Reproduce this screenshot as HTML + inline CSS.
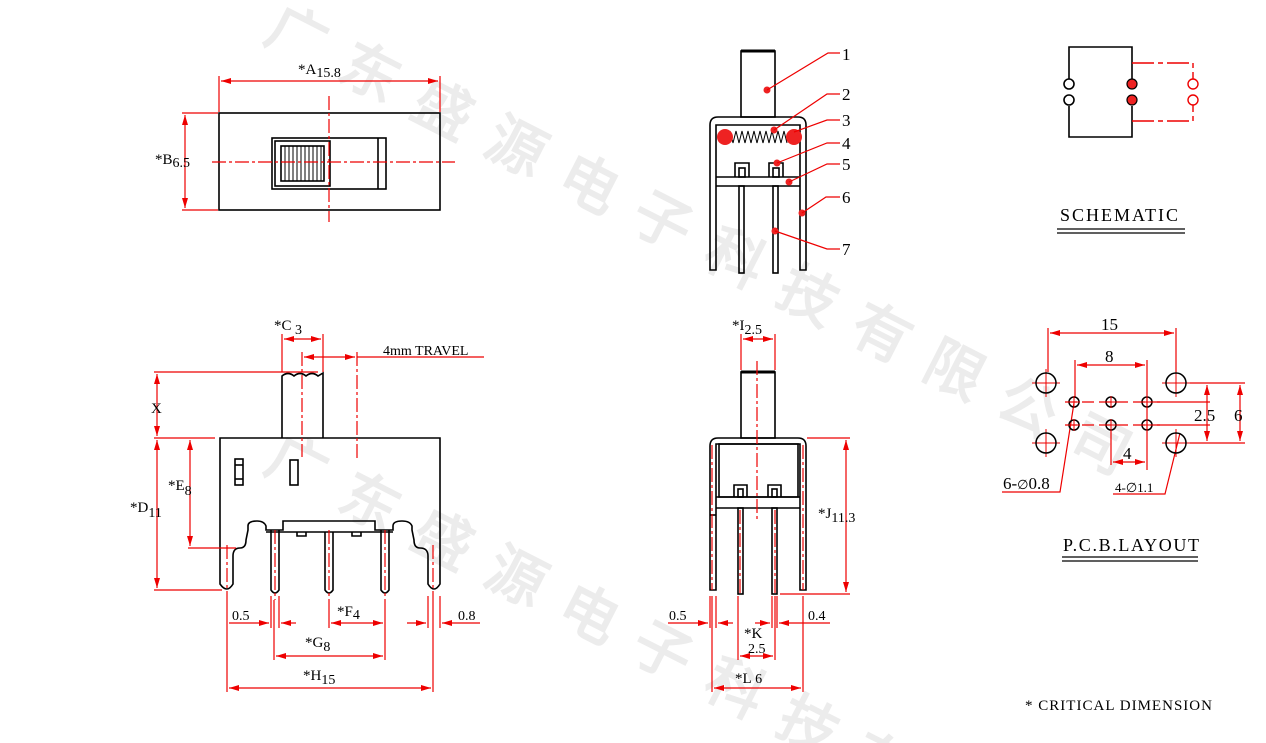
<!DOCTYPE html>
<html><head><meta charset="utf-8"><style>
html,body{margin:0;padding:0;background:#fff;width:1266px;height:743px;overflow:hidden;}
svg{display:block;}
text{font-family:"Liberation Serif",serif;}
</style></head><body>
<svg width="1266" height="743" viewBox="0 0 1266 743" xmlns="http://www.w3.org/2000/svg" overflow="hidden">
<defs>
<marker id="a" viewBox="0 0 10 6" refX="10" refY="3" markerWidth="10" markerHeight="6" orient="auto-start-reverse" markerUnits="userSpaceOnUse"><path d="M0,0 L10,3 L0,6 z" fill="#e00"/></marker>
</defs>
<!-- watermark -->
<g fill="#ececec" font-family="'Noto Sans CJK SC',sans-serif" font-size="58" font-weight="bold">
<text transform="translate(262,40) rotate(27)" letter-spacing="24">广东盛源电子科技有限公司</text>
<text transform="translate(262,470) rotate(27)" letter-spacing="24">广东盛源电子科技有限公司</text>
</g>

<g fill="none" stroke="#000" stroke-width="1.6">
<rect x="219" y="113" width="221" height="97"/>
<rect x="272" y="138" width="114" height="51"/>
<line x1="378" y1="138" x2="378" y2="189"/>
<rect x="275" y="141" width="55" height="45"/>
<rect x="281" y="146" width="43" height="35"/>
</g>
<g stroke="#000" stroke-width="1">
<line x1="285" y1="146" x2="285" y2="181"/><line x1="289" y1="146" x2="289" y2="181"/><line x1="293" y1="146" x2="293" y2="181"/><line x1="297" y1="146" x2="297" y2="181"/><line x1="301" y1="146" x2="301" y2="181"/><line x1="305" y1="146" x2="305" y2="181"/><line x1="309" y1="146" x2="309" y2="181"/><line x1="313" y1="146" x2="313" y2="181"/><line x1="317" y1="146" x2="317" y2="181"/><line x1="321" y1="146" x2="321" y2="181"/>
</g>
<g stroke="#e00" stroke-width="1.2" fill="none">
<line x1="329" y1="96" x2="329" y2="222" stroke-dasharray="14,3,3,3"/>
<line x1="212" y1="162" x2="455" y2="162" stroke-dasharray="14,3,3,3"/>
<line x1="219" y1="76" x2="219" y2="112"/><line x1="440" y1="76" x2="440" y2="112"/>
<line x1="221" y1="81" x2="438" y2="81" marker-start="url(#a)" marker-end="url(#a)"/>
<line x1="182" y1="113" x2="218" y2="113"/><line x1="182" y1="210" x2="218" y2="210"/>
<line x1="185" y1="115" x2="185" y2="208" marker-start="url(#a)" marker-end="url(#a)"/>
</g>
<g font-size="15" fill="#000">
<text x="298" y="74">*A<tspan font-size="14" dy="3">15.8</tspan></text>
<text x="155" y="164">*B<tspan font-size="14" dy="3">6.5</tspan></text>
</g>

<!-- front view -->
<g fill="none" stroke="#000" stroke-width="1.6">
<path d="M282,438 L282,376 Q288,371 294,376 Q300,371 306,376 Q312,371 318,376 L323,373 L323,438"/>
<path d="M220,438 L440,438 L440,584 Q434,594 428,584 L428,556 Q428,548 420,548 Q414,548 414,540 L412,530 L412,526 Q410,521 402,521 Q393,521 393,526 L393,530 L375,530 L375,521 L283,521 L283,530 L266,530 L266,526 Q264,521 257,521 Q248,521 248,526 L248,530 L246,540 Q246,548 240,548 Q233,548 233,556 L233,584 Q227,594 220,584 Z"/>
<path d="M271,530 L271,590 Q275,596 279,590 L279,530"/>
<path d="M325,532 L325,590 Q329,596 333,590 L333,532"/>
<path d="M381,530 L381,590 Q385,596 389,590 L389,530"/>
<path d="M297,532 L297,536 L306,536 L306,532 M352,532 L352,536 L361,536 L361,532"/>
<line x1="266" y1="532" x2="393" y2="532"/>
<rect x="235" y="459" width="8" height="26"/>
<line x1="235" y1="465" x2="243" y2="465"/><line x1="235" y1="479" x2="243" y2="479"/>
<rect x="290" y="460" width="8" height="25"/>
</g>
<g stroke="#e00" stroke-width="1.2" fill="none">
<line x1="282" y1="334" x2="282" y2="372"/><line x1="323" y1="334" x2="323" y2="372"/>
<line x1="284" y1="339" x2="321" y2="339" marker-start="url(#a)" marker-end="url(#a)"/>
<line x1="302" y1="352" x2="302" y2="457" stroke-dasharray="14,3,3,3"/>
<line x1="357" y1="352" x2="357" y2="460" stroke-dasharray="14,3,3,3"/>
<line x1="304" y1="357" x2="355" y2="357" marker-start="url(#a)" marker-end="url(#a)"/>
<line x1="357" y1="357" x2="484" y2="357"/>
<line x1="154" y1="372" x2="318" y2="372"/>
<line x1="154" y1="438" x2="215" y2="438"/>
<line x1="157" y1="374" x2="157" y2="436" marker-start="url(#a)" marker-end="url(#a)"/>
<line x1="157" y1="440" x2="157" y2="588" marker-start="url(#a)" marker-end="url(#a)"/>
<line x1="154" y1="590" x2="222" y2="590"/>
<line x1="188" y1="548" x2="236" y2="548"/>
<line x1="190" y1="440" x2="190" y2="546" marker-start="url(#a)" marker-end="url(#a)"/>
<g stroke-dasharray="14,3,3,3">
<line x1="227" y1="545" x2="227" y2="600"/><line x1="275" y1="530" x2="275" y2="600"/><line x1="329" y1="530" x2="329" y2="600"/><line x1="385" y1="530" x2="385" y2="600"/><line x1="433" y1="545" x2="433" y2="600"/>
</g>
<line x1="227" y1="600" x2="227" y2="692"/>
<line x1="271" y1="596" x2="271" y2="628"/><line x1="279" y1="596" x2="279" y2="628"/>
<line x1="274" y1="600" x2="274" y2="660"/>
<line x1="329" y1="600" x2="329" y2="628"/>
<line x1="385" y1="600" x2="385" y2="660"/>
<line x1="428" y1="596" x2="428" y2="628"/><line x1="440" y1="596" x2="440" y2="628"/>
<line x1="433" y1="600" x2="433" y2="692"/>
<line x1="229" y1="623" x2="269" y2="623" marker-end="url(#a)"/>
<line x1="296" y1="623" x2="281" y2="623" marker-end="url(#a)"/>
<line x1="331" y1="623" x2="383" y2="623" marker-start="url(#a)" marker-end="url(#a)"/>
<line x1="407" y1="623" x2="426" y2="623" marker-end="url(#a)"/>
<line x1="480" y1="623" x2="442" y2="623" marker-end="url(#a)"/>
<line x1="276" y1="656" x2="383" y2="656" marker-start="url(#a)" marker-end="url(#a)"/>
<line x1="229" y1="688" x2="431" y2="688" marker-start="url(#a)" marker-end="url(#a)"/>
</g>
<g font-size="15" fill="#000">
<text x="274" y="330">*C<tspan font-size="14" dy="4"> 3</tspan></text>
<text x="383" y="355" font-size="14">4mm TRAVEL</text>
<text x="151" y="413">X</text>
<text x="130" y="512">*D<tspan font-size="14" dy="5">11</tspan></text>
<text x="168" y="490">*E<tspan font-size="14" dy="5">8</tspan></text>
<text x="232" y="620" font-size="14">0.5</text>
<text x="337" y="616">*F<tspan font-size="14" dy="3">4</tspan></text>
<text x="458" y="620" font-size="14">0.8</text>
<text x="305" y="647">*G<tspan font-size="14" dy="4">8</tspan></text>
<text x="303" y="680">*H<tspan font-size="14" dy="4">15</tspan></text>
</g>

<!-- internal view -->
<g fill="none" stroke="#000" stroke-width="1.6">
<rect x="741" y="51" width="34" height="66"/>
<line x1="741" y1="51" x2="775" y2="51" stroke-width="3"/>
<path d="M710,270 L710,125 Q710,117 718,117 L798,117 Q806,117 806,125 L806,270 L800,270 L800,125 L716,125 L716,270 Z"/>
<line x1="716" y1="177" x2="800" y2="177"/><line x1="716" y1="186" x2="800" y2="186"/>
<rect x="739" y="186" width="5" height="87"/><rect x="773" y="186" width="5" height="87"/>
<path d="M735,177 L735,163 L749,163 L749,177 M769,177 L769,163 L783,163 L783,177"/>
<rect x="739" y="168" width="6" height="9"/><rect x="773" y="168" width="6" height="9"/>
<path stroke-width="1" d="M730,131 L733,143 L736,131 L739,143 L742,131 L745,143 L748,131 L751,143 L754,131 L757,143 L760,131 L763,143 L766,131 L769,143 L772,131 L775,143 L778,131 L781,143 L784,131 L787,143"/>
</g>
<g fill="#e22">
<circle cx="725" cy="137" r="8"/><circle cx="794" cy="137" r="8"/>
<circle cx="767" cy="90" r="3.5"/><circle cx="774" cy="130" r="3.5"/><circle cx="777" cy="163" r="3.5"/><circle cx="789" cy="182" r="3.5"/><circle cx="802" cy="213" r="3.5"/><circle cx="775" cy="231" r="3.5"/>
</g>
<g stroke="#e00" stroke-width="1.2" fill="none">
<polyline points="767,90 828,53 840,53"/>
<polyline points="774,130 827,94 840,94"/>
<polyline points="794,132 827,120 840,120"/>
<polyline points="777,163 827,143 840,143"/>
<polyline points="789,182 827,164 840,164"/>
<polyline points="802,213 826,197 840,197"/>
<polyline points="775,231 827,249 840,249"/>
</g>
<g font-size="17" fill="#000">
<text x="842" y="60">1</text><text x="842" y="100">2</text><text x="842" y="126">3</text><text x="842" y="149">4</text><text x="842" y="170">5</text><text x="842" y="203">6</text><text x="842" y="255">7</text>
</g>

<!-- side view -->
<g fill="none" stroke="#000" stroke-width="1.6">
<rect x="741" y="372" width="34" height="66"/>
<line x1="741" y1="372" x2="775" y2="372" stroke-width="3"/>
<path d="M710,590 L710,446 Q710,438 718,438 L798,438 Q806,438 806,446 L806,590 L800,590 L800,444 L716,444 L716,590 Z"/>
<rect x="719" y="444" width="79" height="53"/>
<line x1="716" y1="497" x2="800" y2="497"/><line x1="716" y1="508" x2="800" y2="508"/>
<line x1="710" y1="515" x2="716" y2="515"/>
<rect x="738" y="508" width="5" height="86"/><rect x="772" y="508" width="5" height="86"/>
<path d="M734,497 L734,485 L747,485 L747,497 M768,497 L768,485 L781,485 L781,497"/>
<rect x="738" y="489" width="5" height="8"/><rect x="772" y="489" width="5" height="8"/>
</g>
<g stroke="#e00" stroke-width="1.2" fill="none">
<line x1="741" y1="334" x2="741" y2="370"/><line x1="775" y1="334" x2="775" y2="370"/>
<line x1="743" y1="339" x2="773" y2="339" marker-start="url(#a)" marker-end="url(#a)"/>
<line x1="757" y1="361" x2="757" y2="520" stroke-dasharray="14,3,3,3"/>
<line x1="712" y1="445" x2="712" y2="590" stroke-dasharray="14,3,3,3"/>
<line x1="803" y1="445" x2="803" y2="590" stroke-dasharray="14,3,3,3"/>
<line x1="740" y1="510" x2="740" y2="594" stroke-dasharray="14,3,3,3"/>
<line x1="775" y1="510" x2="775" y2="594" stroke-dasharray="14,3,3,3"/>
<line x1="807" y1="438" x2="850" y2="438"/><line x1="780" y1="594" x2="850" y2="594"/>
<line x1="846" y1="440" x2="846" y2="592" marker-start="url(#a)" marker-end="url(#a)"/>
<line x1="710" y1="596" x2="710" y2="628"/><line x1="716" y1="596" x2="716" y2="628"/>
<line x1="712" y1="596" x2="712" y2="692"/><line x1="803" y1="596" x2="803" y2="692"/>
<line x1="738" y1="596" x2="738" y2="660"/><line x1="775" y1="596" x2="775" y2="660"/>
<line x1="772" y1="596" x2="772" y2="628"/><line x1="777" y1="596" x2="777" y2="628"/>
<line x1="668" y1="623" x2="708" y2="623" marker-end="url(#a)"/>
<line x1="733" y1="623" x2="718" y2="623" marker-end="url(#a)"/>
<line x1="755" y1="623" x2="770" y2="623" marker-end="url(#a)"/>
<line x1="830" y1="623" x2="779" y2="623" marker-end="url(#a)"/>
<line x1="740" y1="656" x2="773" y2="656" marker-start="url(#a)" marker-end="url(#a)"/>
<line x1="714" y1="688" x2="801" y2="688" marker-start="url(#a)" marker-end="url(#a)"/>
</g>
<g font-size="15" fill="#000">
<text x="732" y="330">*I<tspan font-size="14" dy="4">2.5</tspan></text>
<text x="818" y="518">*J<tspan font-size="14" dy="4">11.3</tspan></text>
<text x="669" y="620" font-size="14">0.5</text>
<text x="808" y="620" font-size="14">0.4</text>
<text x="744" y="638">*K</text>
<text x="748" y="653" font-size="14">2.5</text>
<text x="735" y="683">*L<tspan font-size="14"> 6</tspan></text>
</g>

<!-- schematic -->
<g fill="none" stroke="#000" stroke-width="1.6">
<path d="M1069,79 L1069,47 L1132,47 L1132,79 M1069,106 L1069,137 L1132,137 L1132,106"/>
<circle cx="1069" cy="84" r="5"/><circle cx="1069" cy="100" r="5"/>
</g>
<g stroke="#e00" stroke-width="1.4" fill="none">
<path d="M1132,63 L1193,63 L1193,79 M1132,121 L1193,121 L1193,105" stroke-dasharray="22,4,5,4"/>
<circle cx="1193" cy="84" r="5"/><circle cx="1193" cy="100" r="5"/>
</g>
<circle cx="1132" cy="84" r="5" fill="#e22" stroke="#000" stroke-width="1.2"/>
<circle cx="1132" cy="100" r="5" fill="#e22" stroke="#000" stroke-width="1.2"/>
<text x="1060" y="221" font-size="18" fill="#000" textLength="118">SCHEMATIC</text>
<g stroke="#000" stroke-width="1.2"><line x1="1057" y1="229" x2="1185" y2="229"/><line x1="1057" y1="233" x2="1185" y2="233"/></g>

<!-- PCB -->
<g stroke="#e00" stroke-width="1.2" fill="none">
<line x1="1048" y1="328" x2="1048" y2="372"/><line x1="1176" y1="328" x2="1176" y2="372"/>
<line x1="1050" y1="333" x2="1174" y2="333" marker-start="url(#a)" marker-end="url(#a)"/>
<line x1="1075" y1="360" x2="1075" y2="398"/><line x1="1147" y1="360" x2="1147" y2="470"/>
<line x1="1077" y1="365" x2="1145" y2="365" marker-start="url(#a)" marker-end="url(#a)"/>
<line x1="1111" y1="430" x2="1111" y2="465"/>
<line x1="1113" y1="462" x2="1145" y2="462" marker-start="url(#a)" marker-end="url(#a)"/>
<line x1="1190" y1="383" x2="1245" y2="383"/><line x1="1190" y1="443" x2="1245" y2="443"/>
<line x1="1157" y1="402" x2="1210" y2="402"/><line x1="1157" y1="425" x2="1210" y2="425"/>
<line x1="1207" y1="385" x2="1207" y2="441" marker-start="url(#a)" marker-end="url(#a)"/>
<line x1="1240" y1="385" x2="1240" y2="441" marker-start="url(#a)" marker-end="url(#a)"/>
<line x1="1065" y1="402" x2="1160" y2="402" stroke-dasharray="12,5"/>
<line x1="1065" y1="425" x2="1160" y2="425" stroke-dasharray="12,5"/>
<g stroke-width="1"><path d="M1032,383 H1060 M1046,369 V397 M1032,443 H1060 M1046,429 V457 M1162,383 H1190 M1176,369 V397 M1162,443 H1190 M1176,429 V457"/></g>
<polyline points="1002,492 1060,492 1074,403"/>
<polyline points="1113,494 1165,494 1180,433"/>
</g>
<g fill="none" stroke="#000" stroke-width="1.5">
<circle cx="1046" cy="383" r="10"/><circle cx="1176" cy="383" r="10"/><circle cx="1046" cy="443" r="10"/><circle cx="1176" cy="443" r="10"/>
<circle cx="1074" cy="402" r="5"/><circle cx="1111" cy="402" r="5"/><circle cx="1147" cy="402" r="5"/>
<circle cx="1074" cy="425" r="5"/><circle cx="1111" cy="425" r="5"/><circle cx="1147" cy="425" r="5"/>
</g>
<g stroke="#e00" stroke-width="1"><path d="M1068,402 H1080 M1074,396 V408 M1105,402 H1117 M1111,396 V408 M1141,402 H1153 M1147,396 V408 M1068,425 H1080 M1074,419 V431 M1105,425 H1117 M1111,419 V431 M1141,425 H1153 M1147,419 V431"/></g>
<g font-size="17" fill="#000">
<text x="1101" y="330">15</text>
<text x="1105" y="362">8</text>
<text x="1123" y="459">4</text>
<text x="1194" y="421">2.5</text>
<text x="1234" y="421">6</text>
<text x="1003" y="489">6-<tspan font-size="13">∅</tspan>0.8</text>
<text x="1115" y="492" font-size="13">4-∅1.1</text>
<text x="1063" y="551" font-size="18" textLength="136">P.C.B.LAYOUT</text>
<text x="1025" y="710" font-size="15" textLength="187">* CRITICAL  DIMENSION</text>
</g>
<g stroke="#000" stroke-width="1.2"><line x1="1062" y1="557" x2="1198" y2="557"/><line x1="1062" y1="561" x2="1198" y2="561"/></g>
</svg>
</body></html>
